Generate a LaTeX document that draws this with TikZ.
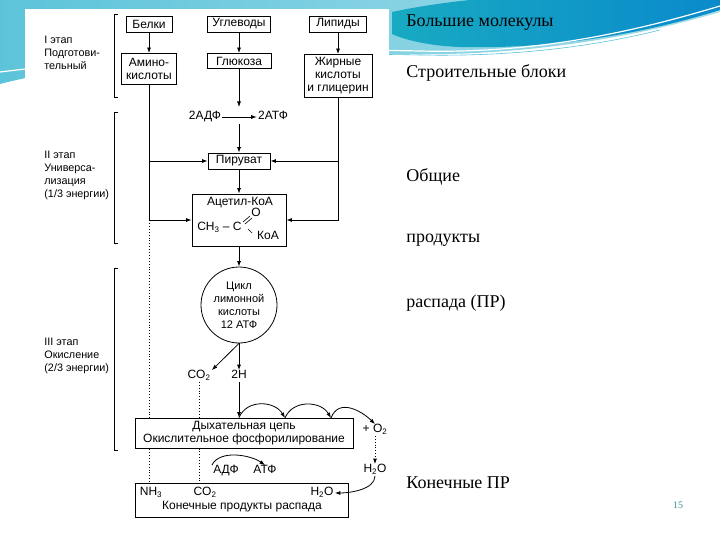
\documentclass[tikz,border=0pt]{standalone}
\usepackage{fontspec}
\setmainfont{Liberation Serif}
\newfontfamily\schfont{Liberation Sans}
\usetikzlibrary{arrows.meta,positioning}
\definecolor{wavel}{HTML}{A6DDEA}
\definecolor{wavem}{HTML}{5CC4DA}
\definecolor{waveteal}{HTML}{18AAC2}
\definecolor{waveblue}{HTML}{0A8ACB}
\definecolor{pagenum}{HTML}{3D8C99}
\newcommand{\brk}[2]{\draw (118,#1) -| (114,#2) -- (118,#2);}
\newcommand{\ix}[1]{\textsubscript{#1}}
\tikzset{
  sch/.style={font=\schfont\fontsize{12}{13}\selectfont},
  bx/.style={sch,draw,fill=white,inner sep=1pt,align=center,minimum height=16pt},
  lb/.style={sch,inner sep=1pt,text height=1.5ex,text depth=0.45ex},
  stg/.style={font=\schfont\fontsize{10.8}{13}\selectfont,align=left,anchor=north west,inner sep=0pt},
  rt/.style={anchor=west,inner sep=0pt,font=\fontsize{18}{20}\selectfont},
  dotln/.style={dotted,line width=0.9pt},
}
\begin{document}
\begin{tikzpicture}[x=1pt,y=-1pt,line width=0.8pt,>={Latex[length=5.5pt,width=4pt]}]
  \useasboundingbox (0,0) rectangle (720,540);
  \fill[white] (0,0) rectangle (720,540);
  \shade[left color=wavem,right color=wavel] (0,0) -- (720,0) -- (720,12) .. controls (600,48) and (480,56) .. (400,54) .. controls (260,50) and (100,58) .. (0,84) -- cycle;
  \shade[left color=waveteal,right color=waveblue] (392,12) .. controls (420,6) and (450,2) .. (470,0) -- (720,0) -- (720,10) .. controls (630,38) and (540,49) .. (460,47) .. controls (430,46) and (405,40) .. (392,34) -- cycle;
  \draw[white,line width=1.2pt] (0,72) .. controls (130,56) and (280,48) .. (420,51) .. controls (540,54) and (640,30) .. (720,6);
  \draw[wavem,line width=0.6pt] (0,76) .. controls (130,60) and (280,52) .. (420,55) .. controls (520,57) and (600,45) .. (660,30);
  \fill[white] (25,9) rectangle (389,525);

  \brk{14}{97} \brk{112}{243} \brk{268}{450}
  \node[stg] (st1) at (44,36) {I этап\\Подготови-\\тельный};
  \node[stg] (st2) at (44,151) {II этап\\Универса-\\лизация\\(1/3 энергии)};
  \node[stg] (st3) at (44,338) {III этап\\Окисление\\(2/3 энергии)};

  \node[bx,minimum width=46pt] (belki) at (149,24) {Белки};
  \node[bx,minimum width=63pt] (uglev) at (239,24) {Углеводы};
  \node[bx,minimum width=57pt] (lipid) at (338,24) {Липиды};
  \node[bx,minimum width=55pt,minimum height=31pt] (amino) at (149,69) {Амино-\\кислоты};
  \node[bx,minimum width=64pt,minimum height=15pt] (gluk) at (239,61) {Глюкоза};
  \node[bx,minimum width=68pt,minimum height=43pt] (zhir) at (338,76) {Жирные\\кислоты\\и глицерин};
  \draw[->] (belki) -- (amino);
  \draw[->] (uglev) -- (gluk);
  \draw[->] (lipid) -- (zhir);

  \node[lb] (adf2) at (205,117) {2АДФ};
  \node[lb] (atf2) at (273,117) {2АТФ};
  \draw[->] (adf2) -- (atf2);
  \coordinate (g1) at (239,107);
  \coordinate (g2) at (239,124);
  \draw[->] (gluk) -- (g1);
  \node[bx,minimum width=62pt] (piruv) at (239,161) {Пируват};
  \draw[->] (g2) -- (piruv);

  \node[bx,minimum width=94pt,minimum height=52pt] (acet) at (239,220) {};
  \node[lb] (acett) at (240,203) {Ацетил-КоА};
  \node[lb,anchor=east] (ch3) at (243,228) {CH\ix{3} – C};
  \node[lb] (oxy) at (256,214) {O};
  \node[lb] (koa) at (268,237) {КоА};
  \draw[line width=0.6pt] (243,222) -- (250,216) (245,224) -- (252,218);
  \draw[line width=0.6pt] (248,229) -- (252,233);
  \draw[->] (amino.south) |- (acet.west);
  \draw[->] (amino.south |- piruv.west) -- (piruv.west);
  \draw[->] (zhir.south) |- (acet.east);
  \draw[->] (zhir.south |- piruv.east) -- (piruv.east);
  \draw[->] (piruv) -- (acet);

  \node[draw,circle,minimum size=76pt,inner sep=0pt,align=center,font=\schfont\fontsize{11}{13}\selectfont] (cycle) at (239,305) {Цикл\\лимонной\\кислоты\\12 АТФ};
  \draw[->] (acet) -- (cycle);
  \node[lb] (co2a) at (199,376) {CO\ix{2}};
  \node[lb] (h2) at (239,376) {2H};
  \draw[->] (cycle.south) -- (co2a.north east);
  \draw[->] (cycle) -- (h2);

  \node[bx,minimum width=213pt,minimum height=34pt] (fin) at (242,500) {};
  \draw[dotln] ([yshift=-3pt]amino.south |- acet.west) -- (amino.south |- fin.north);
  \draw[dotln] (co2a.south) -- (co2a.south |- fin.north);
  \node[bx,minimum width=218pt,minimum height=30pt] (dyh) at (244,433) {Дыхательная цепь\\Окислительное фосфорилирование};
  \draw[->] (h2) -- (h2 |- dyh.north);

  \coordinate (a0) at (h2 |- dyh.north);
  \coordinate (a1) at (285,418);
  \coordinate (a2) at (331,418);
  \node[lb] (o2) at (375,430) {+ O\ix{2}};
  \draw[->] (a0) .. controls +(8,-19) and +(-10,-17) .. (a1);
  \draw[->] (a1) .. controls +(8,-19) and +(-10,-17) .. (a2);
  \draw[->] (a2) .. controls +(8,-21) and +(-12,-12) .. (o2.north);
  \node[lb] (h2oa) at (375,470) {H\ix{2}O};
  \draw[->,dotln] (o2) -- (h2oa);

  \node[lb] (nh3) at (151,493) {NH\ix{3}};
  \node[lb] (co2b) at (205,493) {CO\ix{2}};
  \node[lb] (h2ob) at (322,493) {H\ix{2}O};
  \node[lb] (fint) at (242,507) {Конечные продукты распада};
  \draw[->] (h2oa.south) .. controls +(0,14) and +(14,0) .. (h2ob.east);
  \node[lb] (adf) at (226,471) {АДФ};
  \node[lb] (atf) at (265,471) {АТФ};
  \draw[->] (adf.north west) .. controls +(8,-16) and +(-14,-10) .. (atf.north);

  \node[rt] (r1) at (406,23) {Большие молекулы};
  \node[rt] (r2) at (406,73) {Строительные блоки};
  \node[rt] (r3) at (406,177) {Общие};
  \node[rt] (r4) at (406,240) {продукты};
  \node[rt] (r5) at (406,303) {распада (ПР)};
  \node[rt] (r6) at (406,483) {Конечные ПР};
  \node[font=\fontsize{10}{12}\selectfont,text=pagenum] (pg) at (678,505) {15};
\end{tikzpicture}
\end{document}
